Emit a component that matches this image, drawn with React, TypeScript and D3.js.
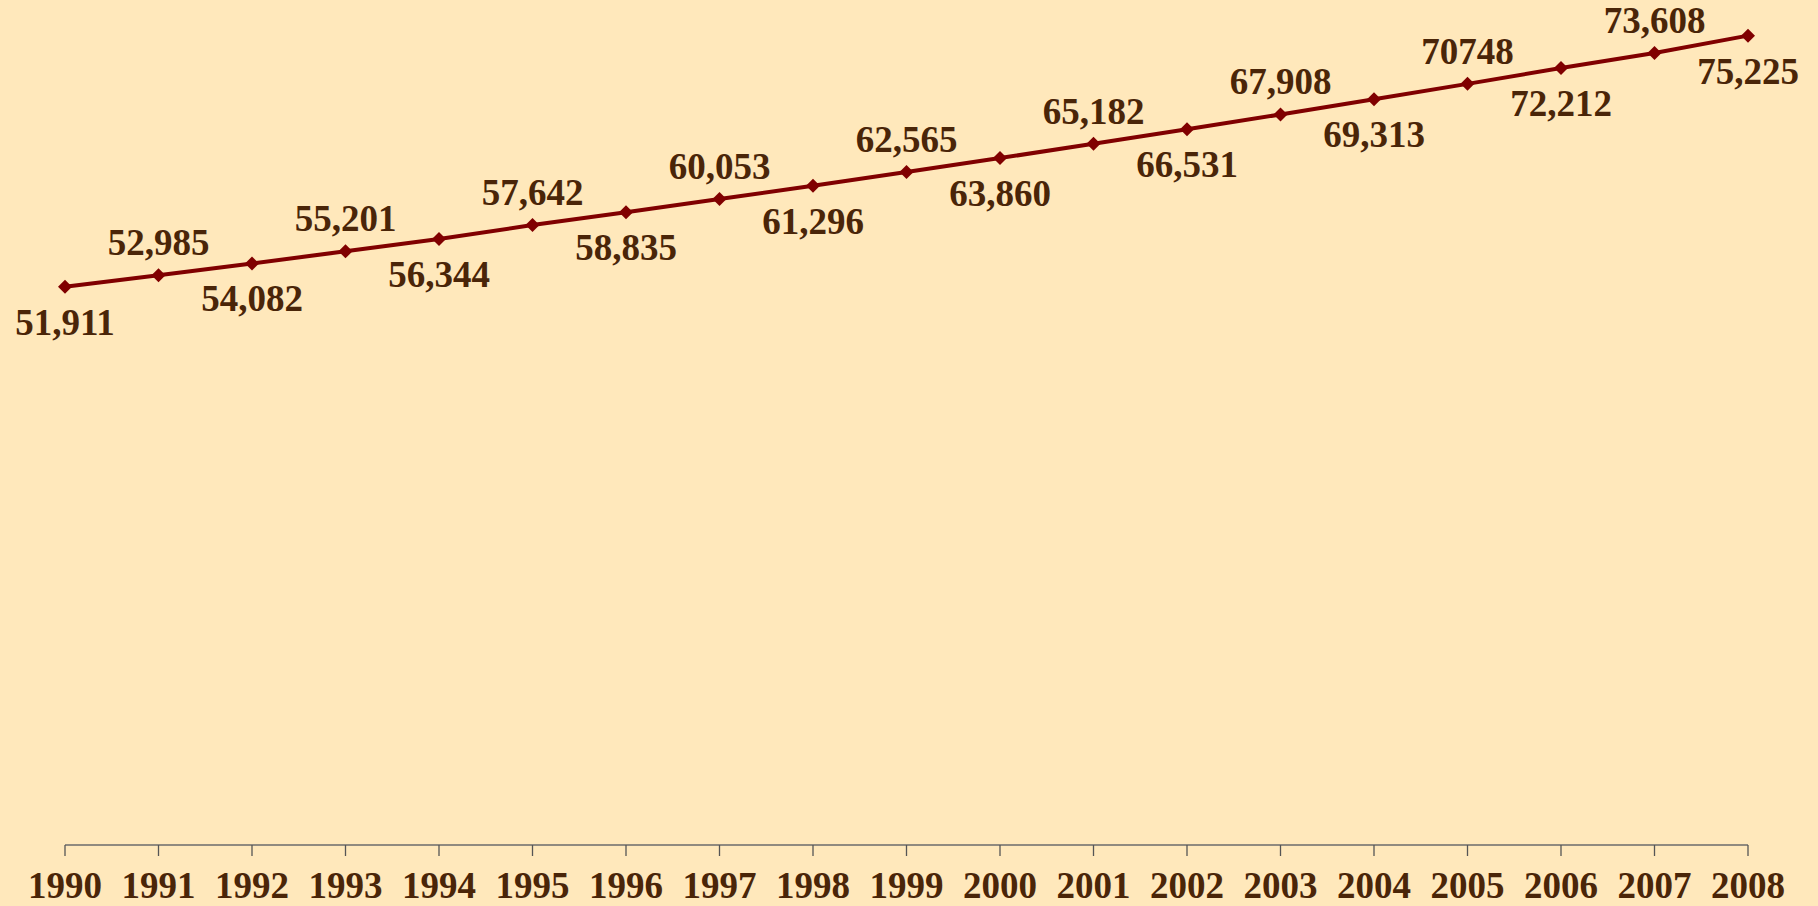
import { useMemo } from 'react';
import * as d3 from 'd3';

const WIDTH = 1818;
const HEIGHT = 906;

const years = [
  '1990', '1991', '1992', '1993', '1994', '1995', '1996', '1997', '1998', '1999',
  '2000', '2001', '2002', '2003', '2004', '2005', '2006', '2007', '2008',
];
const values = [
  51911, 52985, 54082, 55201, 56344, 57642, 58835, 60053, 61296, 62565,
  63860, 65182, 66531, 67908, 69313, 70748, 72212, 73608, 75225,
];
// text as shown on the chart (2005 has no thousands separator)
const valueLabels = [
  '51,911', '52,985', '54,082', '55,201', '56,344', '57,642', '58,835', '60,053', '61,296', '62,565',
  '63,860', '65,182', '66,531', '67,908', '69,313', '70748', '72,212', '73,608', '75,225',
];

const BG = '#FFE8BB';
const LINE = '#800000';
const TEXT = '#4A2508';
const FONT = '"Liberation Serif", "Times New Roman", serif';

export default function App() {
  const axisY = 845;
  const x0 = 65;
  const x1 = 1748;

  const xScale = useMemo(
    () => d3.scalePoint<string>().domain(years).range([x0, x1]),
    []
  );
  // y scale: 0 sits on the category axis
  const yScale = useMemo(
    () => d3.scaleLinear().domain([0, 80000]).range([846, 846 - 861.8]),
    []
  );

  const data = years.map((y, i) => ({ year: y, value: values[i], label: valueLabels[i] }));

  const linePath = d3
    .line<{ year: string; value: number }>()
    .x(d => xScale(d.year) ?? 0)
    .y(d => yScale(d.value))(data);

  return (
    <svg
      width={WIDTH}
      height={HEIGHT}
      style={{ position: 'absolute', left: 0, top: 0, display: 'block' }}
    >
      <rect x={0} y={0} width={WIDTH} height={HEIGHT} fill={BG} />

      {/* category axis */}
      <line x1={x0} x2={x1} y1={axisY} y2={axisY} stroke="#6b6b6b" strokeWidth={1.3} />
      {years.map(y => (
        <line
          key={y}
          x1={xScale(y)}
          x2={xScale(y)}
          y1={axisY}
          y2={axisY + 11}
          stroke="#555"
          strokeWidth={1.3}
        />
      ))}
      {years.map(y => (
        <text
          key={y}
          x={xScale(y)}
          y={898}
          textAnchor="middle"
          fontFamily={FONT}
          fontWeight="bold"
          fontSize={37}
          fill={TEXT}
        >
          {y}
        </text>
      ))}

      <path d={linePath ?? ''} fill="none" stroke={LINE} strokeWidth={4} />

      {data.map(d => {
        const cx = xScale(d.year) ?? 0;
        const cy = yScale(d.value);
        const s = 7;
        return (
          <path
            key={d.year}
            d={`M${cx},${cy - s}L${cx + s},${cy}L${cx},${cy + s}L${cx - s},${cy}Z`}
            fill={LINE}
          />
        );
      })}

      {data.map((d, i) => {
        const cx = xScale(d.year) ?? 0;
        const cy = yScale(d.value);
        const below = i % 2 === 0;
        return (
          <text
            key={d.year}
            x={cx}
            y={below ? cy + 48 : cy - 20}
            textAnchor="middle"
            fontFamily={FONT}
            fontWeight="bold"
            fontSize={37}
            fill={TEXT}
          >
            {d.label}
          </text>
        );
      })}
    </svg>
  );
}
